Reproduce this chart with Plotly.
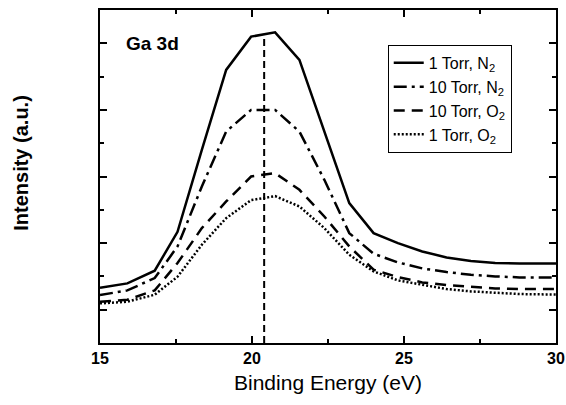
import plotly.graph_objects as go

energy = [15.0, 15.9, 16.8, 17.55, 18.35, 19.15, 19.97, 20.76, 21.56, 22.38,
          23.2, 24.0, 24.8, 25.6, 26.4, 27.2, 28.0, 28.8, 29.6, 30.0]
torr1_n2 = [1.66, 1.79, 2.17, 3.34, 5.8, 8.2, 9.2, 9.33, 8.5, 6.35,
            4.2, 3.3, 3.0, 2.75, 2.57, 2.46, 2.40, 2.39, 2.39, 2.39]
torr10_n2 = [1.44, 1.58, 1.95, 2.9, 4.7, 6.35, 7.0, 7.0, 6.35, 4.9,
             3.3, 2.68, 2.42, 2.24, 2.13, 2.05, 2.0, 1.97, 1.97, 1.97]
torr10_o2 = [1.24, 1.3, 1.58, 2.4, 3.45, 4.25, 5.0, 5.1, 4.6, 3.8,
             2.9, 2.2, 1.98, 1.82, 1.74, 1.68, 1.64, 1.62, 1.62, 1.62]
torr1_o2 = [1.19, 1.24, 1.45, 1.99, 2.95, 3.75, 4.29, 4.41, 4.1, 3.45,
            2.65, 2.15, 1.88, 1.74, 1.62, 1.55, 1.5, 1.47, 1.46, 1.46]
peak_x = [20.4, 20.4]
peak_y = [0.0, 9.27]

series_names = ["1 Torr, N<sub>2</sub>", "10 Torr, N<sub>2</sub>",
                "10 Torr, O<sub>2</sub>", "1 Torr, O<sub>2</sub>"]
series_vals = [torr1_n2, torr10_n2, torr10_o2, torr1_o2]
dashes = ["solid", "13px,5px,3px,5px", "11px,7px", "2px,2px"]

FONT = "Arial, Liberation Sans, sans-serif"

fig = go.Figure()
for name, vals, d in zip(series_names, series_vals, dashes):
    fig.add_trace(go.Scatter(
        x=energy, y=vals, mode="lines", name=name,
        line=dict(color="black", width=2.5, dash=d)))

fig.add_trace(go.Scatter(
    x=peak_x, y=peak_y, mode="lines", showlegend=False,
    line=dict(color="black", width=2, dash="7px,4px")))

fig.update_layout(
    width=566, height=405,
    margin=dict(l=100, r=10, t=10, b=62, autoexpand=False),
    paper_bgcolor="white", plot_bgcolor="white",
    font=dict(family=FONT, color="black"),
    legend=dict(x=0.631, y=0.895, xanchor="left", yanchor="top",
                bordercolor="black", borderwidth=1, bgcolor="white",
                font=dict(size=16, family=FONT), tracegroupgap=0),
    annotations=[
        dict(text="<b>Ga 3d</b>", x=16.73, y=8.98, xref="x", yref="y",
             showarrow=False, font=dict(size=19, family=FONT)),
        dict(text="Binding Energy (eV)", x=0.501, y=-0.12, xref="paper", yref="paper",
             showarrow=False, xanchor="center", yanchor="middle",
             font=dict(size=21, family=FONT)),
        dict(text="<b>Intensity (a.u.)</b>", x=-0.172, y=0.54, xref="paper", yref="paper",
             showarrow=False, textangle=-90, xanchor="center", yanchor="middle",
             font=dict(size=20, family=FONT)),
    ],
)

fig.update_xaxes(
    range=[15, 30], showgrid=False, zeroline=False, automargin=False,
    showline=True, linecolor="black", linewidth=2, mirror="allticks",
    ticks="inside", ticklen=7, tickwidth=2, tickcolor="black",
    tick0=15, dtick=5,
    tickfont=dict(size=16, family=FONT, weight="bold"),
    minor=dict(ticks="inside", ticklen=4, tickwidth=2, tickcolor="black",
               tick0=15, dtick=2.5, showgrid=False),
)
fig.update_yaxes(
    range=[0, 10], showgrid=False, zeroline=False, automargin=False,
    showline=True, linecolor="black", linewidth=2, mirror="allticks",
    ticks="inside", ticklen=7, tickwidth=2, tickcolor="black",
    tick0=1, dtick=2, showticklabels=False,
    minor=dict(ticks="inside", ticklen=4, tickwidth=2, tickcolor="black",
               tick0=0, dtick=1, showgrid=False),
)

fig.write_html("out.html")
